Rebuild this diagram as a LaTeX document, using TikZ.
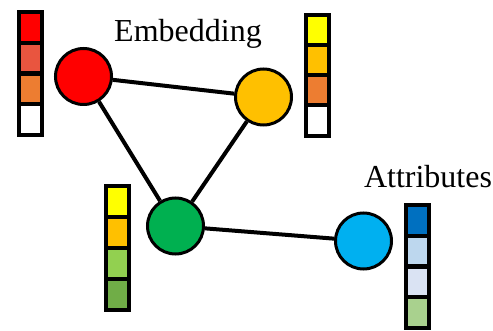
\documentclass[tikz,border=0pt]{standalone}
\usepackage{fontspec}
\setmainfont{Liberation Serif}
\definecolor{cRed}{HTML}{FF0000}
\definecolor{cCoral}{HTML}{E9553F}
\definecolor{cOrange}{HTML}{ED7D31}
\definecolor{cYellow}{HTML}{FFFF00}
\definecolor{cGold}{HTML}{FFC000}
\definecolor{cLime}{HTML}{92D050}
\definecolor{cGreen}{HTML}{70AD47}
\definecolor{cNavy}{HTML}{0070C0}
\definecolor{cSky}{HTML}{BDD7EE}
\definecolor{cPale}{HTML}{DAE3F3}
\definecolor{cMint}{HTML}{A9D18E}
\definecolor{cEmerald}{HTML}{00B050}
\definecolor{cCyan}{HTML}{00B0F0}
\tikzset{
  vertex/.style={circle, draw=black, line width=3pt, minimum size=56pt, inner sep=0pt},
  cell/.style={rectangle, draw=black, line width=4pt, minimum width=23pt, minimum height=30.75pt, inner sep=0pt},
  link/.style={draw=black, line width=4pt},
  caption/.style={font=\fontsize{32}{38}\selectfont, anchor=base, inner sep=0pt}
}
\begin{document}
\begin{tikzpicture}[x=1pt,y=-1pt]
\useasboundingbox (0,0) rectangle (493,331);

% graph vertices
\node[vertex, fill=cRed]     (r) at (83.5,76.5) {};
\node[vertex, fill=cGold]    (o) at (263.5,97) {};
\node[vertex, fill=cEmerald] (g) at (175.5,226) {};
\node[vertex, fill=cCyan]    (b) at (363.5,241) {};

% edges
\draw[link] (r) -- (o);
\draw[link] (r) -- (g);
\draw[link] (o) -- (g);
\draw[link] (g) -- (b);

% embedding vector next to the red vertex
\node[cell, fill=cRed]    (a1) at (30,27.4) {};
\node[cell, fill=cCoral]  (a2) at (30,58.1) {};
\node[cell, fill=cOrange] (a3) at (30,88.9) {};
\node[cell, fill=white]   (a4) at (30,119.6) {};

% embedding vector next to the orange vertex
\node[cell, fill=cYellow] (b1) at (317.5,30.1) {};
\node[cell, fill=cGold]   (b2) at (317.5,60.2) {};
\node[cell, fill=cOrange] (b3) at (317.5,90.3) {};
\node[cell, fill=white]   (b4) at (317.5,120.4) {};

% embedding vector next to the green vertex
\node[cell, fill=cYellow] (c1) at (117.5,201.5) {};
\node[cell, fill=cGold]   (c2) at (117.5,232.5) {};
\node[cell, fill=cLime]   (c3) at (117.5,263.5) {};
\node[cell, fill=cGreen]  (c4) at (117.5,294.5) {};

% attribute vector next to the blue vertex
\node[cell, fill=cNavy]   (d1) at (417.5,220.4) {};
\node[cell, fill=cSky]    (d2) at (417.5,251.1) {};
\node[cell, fill=cPale]   (d3) at (417.5,281.9) {};
\node[cell, fill=cMint]   (d4) at (417.5,312.6) {};

% labels
\node[caption] (emb) at (188,41.7) {Embedding};
\node[caption] (att) at (428,188) {Attributes};
\end{tikzpicture}
\end{document}
